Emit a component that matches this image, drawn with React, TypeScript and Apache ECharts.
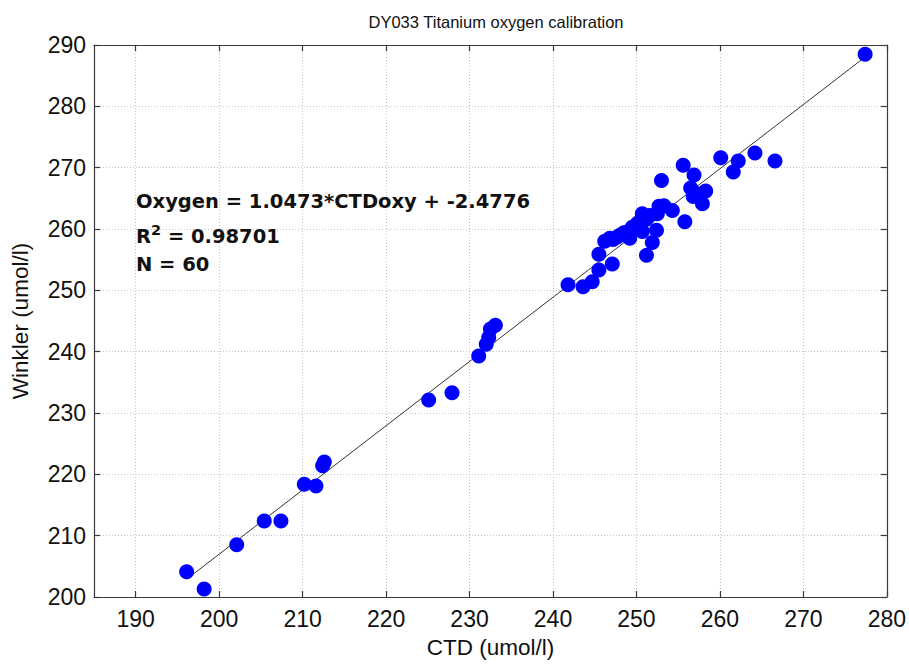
import React, { useEffect, useRef } from "react";
import * as echarts from "echarts";

const ctd = [
  196.1, 198.2, 202.1, 205.4, 207.4, 210.2, 211.6, 212.4, 212.6,
  225.1, 227.9, 231.1, 232.0, 232.3, 232.5, 233.1,
  241.8, 243.6, 244.7, 245.5, 247.1, 245.5, 246.2, 247.2, 248.0, 248.9,
  249.2, 249.8, 250.4, 250.7, 250.7, 251.2, 251.9, 252.4, 252.7, 252.5,
  254.3, 253.0, 255.6, 256.9, 256.5, 256.8, 258.3, 257.9, 255.8, 260.1,
  262.2, 261.6, 264.2, 266.6, 277.4,
  247.7, 248.5, 250.1, 251.2, 253.3, 257.2, 249.5, 251.6, 246.8,
];
const winkler = [
  204.1, 201.3, 208.5, 212.4, 212.4, 218.4, 218.1, 221.4, 222.0,
  232.1, 233.3, 239.3, 241.2, 242.3, 243.7, 244.3,
  250.9, 250.6, 251.4, 253.3, 254.3, 255.9, 258.0, 258.3, 259.0, 259.5,
  258.5, 260.3, 261.2, 262.5, 259.6, 255.7, 257.8, 259.8, 263.7, 262.5,
  263.0, 267.9, 270.4, 268.8, 266.7, 265.3, 266.2, 264.1, 261.2, 271.6,
  271.1, 269.3, 272.4, 271.1, 288.5,
  258.7, 259.4, 260.9, 261.6, 263.8, 265.8, 260.3, 262.2, 258.5,
];
const xTicks = [190, 200, 210, 220, 230, 240, 250, 260, 270, 280];
const fitSlope = 1.0473;
const fitIntercept = -2.4776;
const titleText = "DY033 Titanium oxygen calibration";
const xName = "CTD (umol/l)";
const yName = "Winkler (umol/l)";
const eqLine = "Oxygen = 1.0473*CTDoxy + -2.4776";
const r2Value = "0.98701";
const nValue = "60";

const FONT = "'Liberation Sans', Arial, Helvetica, sans-serif";
const BOLDFONT = "'DejaVu Sans', 'Liberation Sans', Arial, sans-serif";

export default function App() {
  const ref = useRef<HTMLDivElement>(null);
  useEffect(() => {
    if (!ref.current) return;
    const chart = echarts.init(ref.current, undefined, { renderer: "svg" });
    const points = ctd.map((x, i) => [x, winkler[i]]);
    const minX = Math.min(...ctd);
    const maxX = Math.max(...ctd);
    const fit = [
      [minX, fitSlope * minX + fitIntercept],
      [maxX, fitSlope * maxX + fitIntercept],
    ];
    const axisLineStyle = { color: "#3a3a3a", width: 1.2 };
    const tickStyle = { color: "#3a3a3a", width: 1.2 };
    const gridStyle = { color: "#c4c4c4", type: [1, 2] as any, width: 1 };
    chart.setOption({
      animation: false,
      backgroundColor: "#ffffff",
      title: {
        text: titleText,
        left: 491,
        textAlign: "center",
        top: 8,
        textStyle: { fontFamily: FONT, fontSize: 16.5, fontWeight: "normal", color: "#111" },
      },
      grid: { left: 94, right: 22, top: 45, bottom: 62, containLabel: false },
      xAxis: [
        {
          type: "value",
          min: 185,
          max: 280,
          name: xName,
          nameLocation: "middle",
          nameGap: 39,
          nameTextStyle: { fontFamily: FONT, fontSize: 22.5, color: "#111" },
          axisLine: { show: true, lineStyle: axisLineStyle },
          axisTick: { show: true, inside: true, length: 6, lineStyle: tickStyle, customValues: xTicks },
          axisLabel: { customValues: xTicks, fontFamily: FONT, fontSize: 23, color: "#111", margin: 10 },
          splitLine: { show: true, lineStyle: gridStyle },
        },
        {
          type: "value",
          position: "top",
          min: 185,
          max: 280,
          axisLine: { show: true, onZero: false, lineStyle: axisLineStyle },
          axisTick: { show: true, inside: true, length: 6, lineStyle: tickStyle, customValues: xTicks },
          axisLabel: { show: false, customValues: xTicks },
          splitLine: { show: false },
        },
      ],
      yAxis: [
        {
          type: "value",
          min: 200,
          max: 290,
          interval: 10,
          name: yName,
          nameLocation: "middle",
          nameGap: 62,
          nameTextStyle: { fontFamily: FONT, fontSize: 22.5, color: "#111" },
          axisLine: { show: true, lineStyle: axisLineStyle },
          axisTick: { show: true, inside: true, length: 6, lineStyle: tickStyle },
          axisLabel: { fontFamily: FONT, fontSize: 23, color: "#111", margin: 8 },
          splitLine: { show: true, lineStyle: gridStyle },
        },
        {
          type: "value",
          position: "right",
          min: 200,
          max: 290,
          interval: 10,
          axisLine: { show: true, onZero: false, lineStyle: axisLineStyle },
          axisTick: { show: true, inside: true, length: 6, lineStyle: tickStyle },
          axisLabel: { show: false },
          splitLine: { show: false },
        },
      ],
      series: [
        {
          type: "line",
          data: fit,
          symbol: "none",
          lineStyle: { color: "#333", width: 1 },
          z: 2,
        },
        {
          type: "scatter",
          data: points,
          symbolSize: 15,
          itemStyle: { color: "#0000ff", opacity: 1 },
          z: 3,
        },
      ],
      graphic: [
        {
          type: "text",
          left: 136,
          top: 191,
          z: 10,
          style: { text: eqLine, fontFamily: BOLDFONT, fontSize: 19.5, fontWeight: "bold", fill: "#111" },
        },
        {
          type: "text",
          left: 136,
          top: 222,
          z: 10,
          style: {
            text: "{a|R}{s|2}{a| = " + r2Value + "}",
            rich: {
              a: { fontFamily: BOLDFONT, fontSize: 19.5, fontWeight: "bold", fill: "#111", verticalAlign: "bottom", lineHeight: 24 },
              s: { fontFamily: BOLDFONT, fontSize: 14.5, fontWeight: "bold", fill: "#111", verticalAlign: "top", lineHeight: 13 },
            },
          },
        },
        {
          type: "text",
          left: 136,
          top: 254,
          z: 10,
          style: { text: "N = " + nValue, fontFamily: BOLDFONT, fontSize: 19.5, fontWeight: "bold", fill: "#111" },
        },
      ],
    });
    return () => chart.dispose();
  }, []);
  return <div ref={ref} style={{ width: 909, height: 664, position: "absolute", left: 0, top: 0 }} />;
}
